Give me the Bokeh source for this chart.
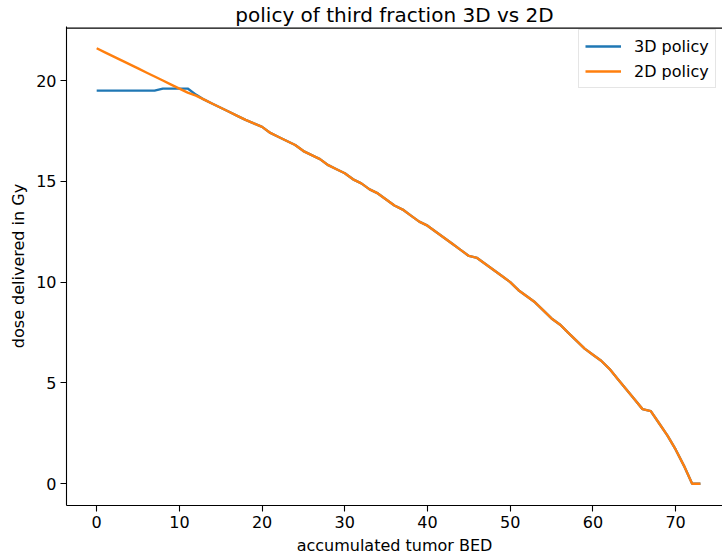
from bokeh.plotting import figure
from bokeh.models import Range1d, FixedTicker, Legend, LegendItem
from bokeh.embed import file_html
from bokeh.resources import INLINE

# ---- data ----
bed = list(range(0, 74))
policy_2d = [21.6, 21.4, 21.2, 21.0, 20.8, 20.6, 20.4, 20.2, 20.0, 19.8,
             19.6, 19.4, 19.25, 19.05, 18.85, 18.65, 18.45, 18.25, 18.05, 17.87,
             17.7, 17.4, 17.2, 17.0, 16.8, 16.5, 16.3, 16.1, 15.8, 15.6,
             15.4, 15.1, 14.9, 14.6, 14.4, 14.1, 13.8, 13.6, 13.3, 13.0,
             12.8, 12.5, 12.2, 11.9, 11.6, 11.3, 11.2, 10.9, 10.6, 10.3,
             10.0, 9.6, 9.3, 9.0, 8.6, 8.2, 7.9, 7.5, 7.1, 6.7,
             6.4, 6.1, 5.7, 5.2, 4.7, 4.2, 3.7, 3.6, 3.0, 2.4,
             1.7, 0.9, 0.0, 0.0]
policy_3d_head = [19.5, 19.5, 19.5, 19.5, 19.5, 19.5, 19.5, 19.5, 19.6, 19.6,
                  19.6, 19.6, 19.3]
policy_3d = policy_3d_head + policy_2d[len(policy_3d_head):]

x_ticks = [0, 10, 20, 30, 40, 50, 60, 70]
y_ticks = [0, 5, 10, 15, 20]
title_text = "policy of third fraction 3D vs 2D"
x_label = "accumulated tumor BED"
y_label = "dose delivered in Gy"
series_names = ["3D policy", "2D policy"]
colors = ["#1f77b4", "#ff7f0e"]

FONT = "DejaVu Sans"
X_START, X_END = -3.65, 75.67
Y_START, Y_END = -1.08, 22.68
SPINE_INSET = 0.08  # keep the top spine just inside the frame so it is not clipped

p = figure(width=722, height=557, output_backend="svg", toolbar_location=None,
           x_range=Range1d(X_START, X_END), y_range=Range1d(Y_START, Y_END),
           min_border_left=66, min_border_right=0, min_border_top=25,
           min_border_bottom=51, title=title_text)
p.background_fill_color = "white"
p.border_fill_color = "white"
p.outline_line_color = None
p.xgrid.grid_line_color = None
p.ygrid.grid_line_color = None

p.title.text_font = FONT
p.title.text_font_size = "20px"
p.title.text_font_style = "normal"
p.title.align = "center"
p.title.offset = 4
p.title.standoff = 0
p.title.text_color = "black"

for ax, ticks in ((p.xaxis[0], x_ticks), (p.yaxis[0], y_ticks)):
    ax.ticker = FixedTicker(ticks=ticks)
    ax.major_label_text_font = FONT
    ax.major_label_text_font_size = "16px"
    ax.major_label_text_color = "black"
    ax.axis_label_text_font = FONT
    ax.axis_label_text_font_size = "16px"
    ax.axis_label_text_font_style = "normal"
    ax.axis_label_text_color = "black"
    ax.axis_line_color = "black"
    ax.axis_line_width = 1.1
    ax.major_tick_line_color = "black"
    ax.major_tick_line_width = 1.1
    ax.major_tick_out = 6
    ax.major_tick_in = 0
    ax.minor_tick_line_color = None
    ax.major_label_standoff = 4
    ax.axis_label_standoff = 5

p.xaxis.axis_label = x_label
p.yaxis.axis_label = y_label

# top spine of the axes box (frame decoration)
p.line([X_START, X_END], [Y_END - SPINE_INSET, Y_END - SPINE_INSET],
       line_color="black", line_width=1.3)

r3 = p.line(bed, policy_3d, line_color=colors[0], line_width=2.4)
r2 = p.line(bed, policy_2d, line_color=colors[1], line_width=2.4)

legend = Legend(items=[LegendItem(label=series_names[0], renderers=[r3]),
                       LegendItem(label=series_names[1], renderers=[r2])],
                location=(512, 417), orientation="vertical")
legend.label_text_font = FONT
legend.label_text_font_size = "16px"
legend.label_text_color = "black"
legend.glyph_width = 36
legend.glyph_height = 20
legend.label_height = 20
legend.label_standoff = 13
legend.spacing = 5
legend.padding = 6
legend.margin = 0
legend.border_line_color = "#cccccc"
legend.border_line_width = 1
legend.background_fill_color = "white"
legend.background_fill_alpha = 0.8
p.add_layout(legend, "center")

open("out.html", "w").write(file_html(p, INLINE))
